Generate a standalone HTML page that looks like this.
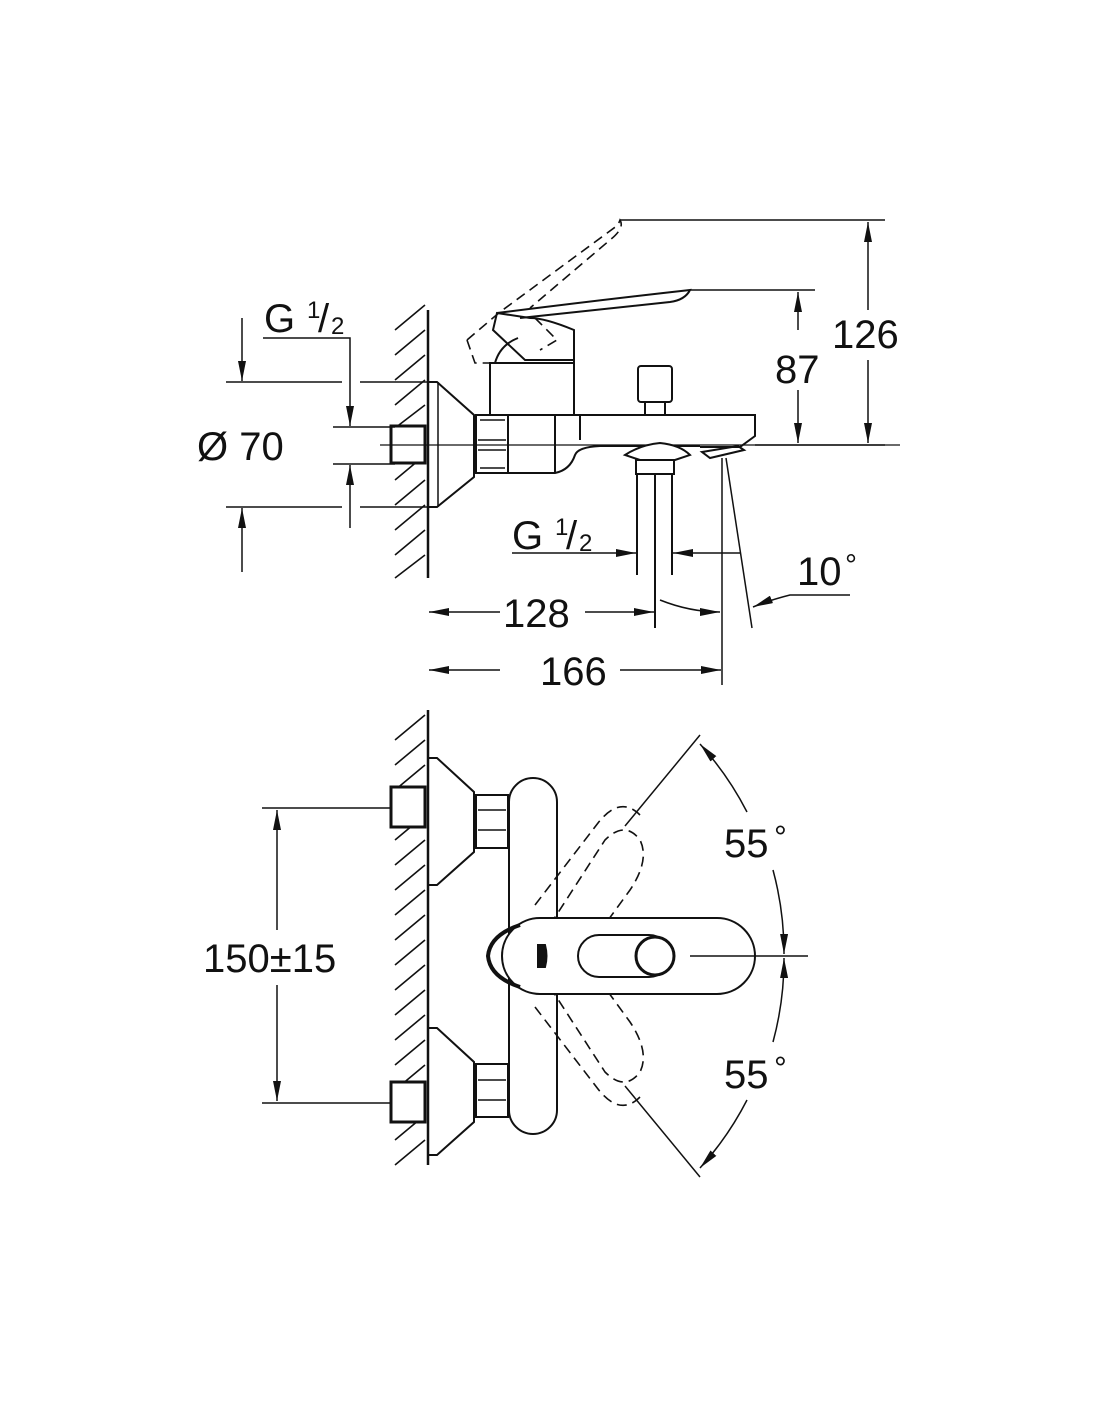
<!DOCTYPE html>
<html><head><meta charset="utf-8"><style>
html,body{margin:0;padding:0;background:#fff}
svg{display:block}
text{font-family:"Liberation Sans",sans-serif;fill:#111}
</style></head><body>
<svg width="1100" height="1422" viewBox="0 0 1100 1422" xmlns="http://www.w3.org/2000/svg">
<defs>
<marker id="b" viewBox="0 0 20 8" refX="20" refY="4" markerWidth="20" markerHeight="8" markerUnits="userSpaceOnUse" orient="auto-start-reverse"><path d="M0,0 L20,4 L0,8 z" fill="#111"/></marker>
</defs>
<g stroke="#111" fill="none" stroke-width="2">
<line x1="428" y1="310" x2="428" y2="578" stroke-width="2.5"/>
<g stroke-width="1.6">
<line x1="395" y1="330" x2="425" y2="305"/><line x1="395" y1="355" x2="425" y2="330"/><line x1="395" y1="380" x2="425" y2="355"/>
<line x1="395" y1="405" x2="425" y2="380"/><line x1="395" y1="428" x2="425" y2="405"/><line x1="395" y1="480" x2="425" y2="455"/>
<line x1="395" y1="505" x2="425" y2="480"/><line x1="395" y1="530" x2="425" y2="505"/><line x1="395" y1="555" x2="425" y2="530"/>
<line x1="395" y1="578" x2="425" y2="555"/>
<line x1="395" y1="740" x2="425" y2="715"/><line x1="395" y1="765" x2="425" y2="740"/><line x1="395" y1="790" x2="425" y2="765"/>
<line x1="395" y1="840" x2="425" y2="815"/><line x1="395" y1="865" x2="425" y2="840"/><line x1="395" y1="890" x2="425" y2="865"/>
<line x1="395" y1="915" x2="425" y2="890"/><line x1="395" y1="940" x2="425" y2="915"/><line x1="395" y1="965" x2="425" y2="940"/>
<line x1="395" y1="990" x2="425" y2="965"/><line x1="395" y1="1015" x2="425" y2="990"/><line x1="395" y1="1040" x2="425" y2="1015"/>
<line x1="395" y1="1065" x2="425" y2="1040"/><line x1="395" y1="1090" x2="425" y2="1065"/><line x1="395" y1="1140" x2="425" y2="1115"/>
<line x1="395" y1="1165" x2="425" y2="1140"/>
</g>
<path d="M428,382 L437,382 L474,415 L474,477 L437,507 L428,507"/>
<line x1="438" y1="382" x2="438" y2="507" stroke-width="1.5"/>
<rect x="391" y="426" width="34" height="37" stroke-width="3" fill="#fff"/>
<line x1="380" y1="445" x2="900" y2="445" stroke-width="1.3"/>
<rect x="476" y="415" width="32" height="58"/>
<path d="M480,420 L505,420 M480,468 L505,468 M478,440 L506,440 M478,450 L506,450" stroke-width="1.5"/>
<path d="M508,415 L755,415 L755,436 L740,447 L700,447"/>
<path d="M508,473 L555,473 Q570,470 575,455 Q578,447 600,446 L700,446"/>
<line x1="555" y1="415" x2="555" y2="473"/>
<line x1="580" y1="415" x2="580" y2="440"/>
<path d="M625,455 Q640,445 660,443 Q680,445 690,455 L675,460 L640,460 Z" fill="#fff"/>
<rect x="636" y="460" width="38" height="14"/>
<line x1="637" y1="474" x2="637" y2="575"/><line x1="655" y1="474" x2="655" y2="628"/><line x1="672" y1="474" x2="672" y2="575"/>
<path d="M702,452 L738,446 L744,450 L710,458 Z"/>
<rect x="490" y="363" width="84" height="52"/>
<path d="M574,363 L574,330 Q545,318 530,318 L497,313 L493,330 L525,360 L574,360"/>
<path d="M497,313 Q600,300 690,290 Q685,300 670,302 L520,318"/>
<path d="M495,363 Q500,345 518,338" />
<g stroke-dasharray="10,6" stroke-width="1.6">
<path d="M467,340 L500,312 L618,225 L620,220 Q625,228 610,240 L530,308"/>
<path d="M467,340 L475,363 L495,363"/>
<path d="M535,318 L557,340 L540,350"/>
</g>
<rect x="638" y="366" width="34" height="36" rx="3"/>
<rect x="645" y="402" width="20" height="13"/>
<line x1="620" y1="220" x2="885" y2="220" stroke-width="1.5"/>
<line x1="690" y1="290" x2="815" y2="290" stroke-width="1.5"/>
<line x1="755" y1="445" x2="885" y2="445" stroke-width="1.5"/>
<line x1="868" y1="310" x2="868" y2="222" stroke-width="1.5" marker-end="url(#b)"/>
<line x1="868" y1="360" x2="868" y2="443" stroke-width="1.5" marker-end="url(#b)"/>
<line x1="798" y1="330" x2="798" y2="292" stroke-width="1.5" marker-end="url(#b)"/>
<line x1="798" y1="390" x2="798" y2="443" stroke-width="1.5" marker-end="url(#b)"/>
<line x1="226" y1="382" x2="342" y2="382" stroke-width="1.5"/><line x1="360" y1="382" x2="428" y2="382" stroke-width="1.5"/>
<line x1="226" y1="507" x2="342" y2="507" stroke-width="1.5"/><line x1="360" y1="507" x2="428" y2="507" stroke-width="1.5"/>
<line x1="333" y1="427" x2="395" y2="427" stroke-width="1.5"/><line x1="333" y1="464" x2="395" y2="464" stroke-width="1.5"/>
<line x1="242" y1="318" x2="242" y2="381" stroke-width="1.5" marker-end="url(#b)"/>
<line x1="242" y1="572" x2="242" y2="508" stroke-width="1.5" marker-end="url(#b)"/>
<path d="M263,338 L350,338 L350,426" stroke-width="1.5" marker-end="url(#b)"/>
<line x1="350" y1="528" x2="350" y2="465" stroke-width="1.5" marker-end="url(#b)"/>
<line x1="512" y1="553" x2="636" y2="553" stroke-width="1.5" marker-end="url(#b)"/>
<line x1="740" y1="553" x2="673" y2="553" stroke-width="1.5" marker-end="url(#b)"/>
<line x1="722" y1="458" x2="722" y2="685" stroke-width="1.5"/>
<line x1="726" y1="458" x2="752" y2="628" stroke-width="1.5"/>
<line x1="500" y1="612" x2="429" y2="612" stroke-width="1.5" marker-end="url(#b)"/>
<line x1="585" y1="612" x2="654" y2="612" stroke-width="1.5" marker-end="url(#b)"/>
<path d="M660,600 Q690,612 720,612" stroke-width="1.5" marker-end="url(#b)"/>
<line x1="500" y1="670" x2="429" y2="670" stroke-width="1.5" marker-end="url(#b)"/>
<line x1="620" y1="670" x2="721" y2="670" stroke-width="1.5" marker-end="url(#b)"/>
<path d="M850,595 L790,595 Q770,600 753,607" stroke-width="1.5" marker-end="url(#b)"/>

<line x1="428" y1="710" x2="428" y2="1165" stroke-width="2.5"/>
<path d="M428,758 L437,758 L474,792 L474,852 L437,885 L428,885"/>
<path d="M428,1028 L437,1028 L474,1062 L474,1122 L437,1155 L428,1155"/>
<rect x="391" y="787" width="34" height="40" stroke-width="3" fill="#fff"/>
<rect x="391" y="1082" width="34" height="40" stroke-width="3" fill="#fff"/>
<rect x="476" y="795" width="32" height="53"/>
<path d="M478,810 L506,810 M478,830 L506,830" stroke-width="1.5"/>
<rect x="476" y="1064" width="32" height="53"/>
<path d="M478,1080 L506,1080 M478,1100 L506,1100" stroke-width="1.5"/>
<rect x="509" y="778" width="48" height="356" rx="24" fill="#fff"/>
<g stroke-dasharray="10,6" stroke-width="1.6">
<path d="M550,925 L605,840 Q625,820 640,840 Q650,860 630,890 L590,945"/>
<path d="M535,905 L598,823 Q620,795 640,815"/>
<path d="M550,987 L605,1072 Q625,1092 640,1072 Q650,1052 630,1022 L590,967"/>
<path d="M535,1007 L598,1089 Q620,1117 640,1097"/>
</g>
<path d="M540,918 L717,918 A38,38 0 0 1 717,994 L540,994 A38,38 0 0 1 540,918 Z" fill="#fff"/>
<path d="M520,925 Q490,935 488,956 Q490,977 520,987" stroke-width="4"/>
<rect x="578" y="935" width="92" height="42" rx="21"/>
<circle cx="655" cy="956" r="19" stroke-width="3" fill="#fff"/>
<path d="M538,945 L545,945 Q548,956 545,967 L538,967 Z" fill="#111"/>
<line x1="262" y1="808" x2="390" y2="808" stroke-width="1.5"/>
<line x1="262" y1="1103" x2="390" y2="1103" stroke-width="1.5"/>
<line x1="277" y1="930" x2="277" y2="810" stroke-width="1.5" marker-end="url(#b)"/>
<line x1="277" y1="985" x2="277" y2="1101" stroke-width="1.5" marker-end="url(#b)"/>
<line x1="625" y1="826" x2="700" y2="735" stroke-width="1.5"/>
<line x1="625" y1="1086" x2="700" y2="1177" stroke-width="1.5"/>
<line x1="690" y1="956" x2="808" y2="956" stroke-width="1.5"/>
<path d="M747,812 A316,316 0 0 0 700,744" stroke-width="1.5" marker-end="url(#b)"/>
<path d="M773,870 A316,316 0 0 1 784,954" stroke-width="1.5" marker-end="url(#b)"/>
<path d="M773,1042 A316,316 0 0 0 784,958" stroke-width="1.5" marker-end="url(#b)"/>
<path d="M747,1100 A316,316 0 0 1 700,1168" stroke-width="1.5" marker-end="url(#b)"/>
</g>
<g font-size="40">
<text x="832" y="348">126</text>
<text x="775" y="383">87</text>
<text x="197" y="460">Ø 70</text>
<text x="264" y="332">G</text><text x="307" y="318" font-size="24">1</text><text x="318" y="332">/</text><text x="331" y="334" font-size="24">2</text>
<text x="512" y="549">G</text><text x="555" y="535" font-size="24">1</text><text x="566" y="549">/</text><text x="579" y="551" font-size="24">2</text>
<text x="503" y="627">128</text>
<text x="540" y="685">166</text>
<text x="797" y="585">10</text><text x="845" y="575" font-size="30">°</text>
<text x="203" y="972">150±15</text>
<text x="724" y="857">55</text><text x="774" y="848" font-size="32">°</text>
<text x="724" y="1088">55</text><text x="774" y="1079" font-size="32">°</text>
</g>
</svg>
</body></html>
